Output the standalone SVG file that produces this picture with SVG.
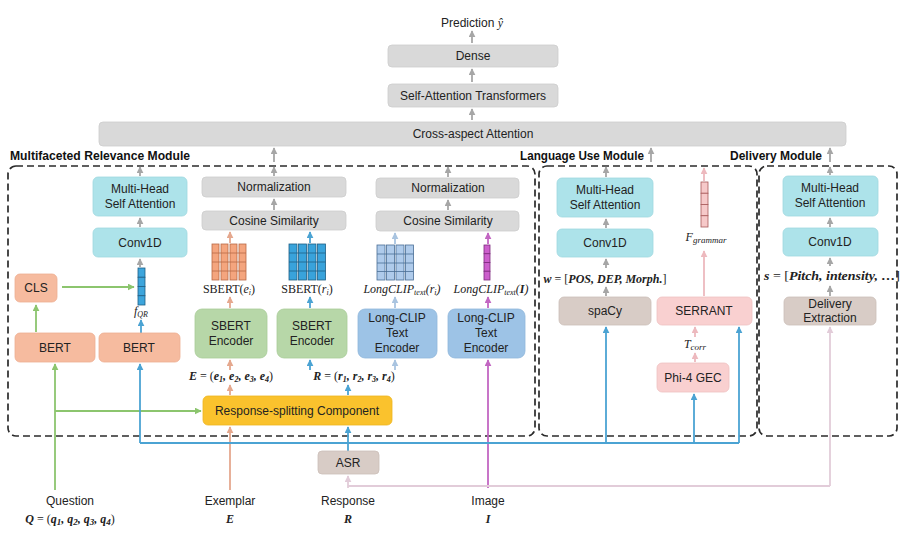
<svg xmlns="http://www.w3.org/2000/svg" width="905" height="538" viewBox="0 0 905 538">
<defs>
<style>
.t{font-family:"Liberation Sans","Open Sans",sans-serif;font-size:12px;fill:#222;text-anchor:middle}
.mod{font-family:"Liberation Sans",sans-serif;font-size:12px;font-weight:bold;fill:#111}
.m{font-family:"Liberation Serif","DejaVu Serif",serif;font-size:12px;fill:#222;text-anchor:middle}
.bi{font-style:italic;font-weight:bold}
.it{font-style:italic}
.gray{fill:#D9D9D9;stroke:#CDCDCD;stroke-width:0.8}
.cyan{fill:#ADE3EA;stroke:#9FD8E0;stroke-width:0.8}
.sal{fill:#F6BB9F;stroke:#EDAE92;stroke-width:0.8}
.grn{fill:#B7D7A8;stroke:#A8CB98;stroke-width:0.8}
.blu{fill:#9DC3E6;stroke:#8FB6DA;stroke-width:0.8}
.yel{fill:#FAC22D;stroke:#EDB520;stroke-width:0.8}
.tau{fill:#D8CCC6;stroke:#CBBFB9;stroke-width:0.8}
.pnk{fill:#F9D0D0;stroke:#EFC2C2;stroke-width:0.8}
.dash{fill:none;stroke:#2B2B2B;stroke-width:1.7;stroke-dasharray:7 4}
.c{fill:none;stroke-width:1.8}
.cg{stroke:#A6A6A6}
.cgr{stroke:#8CC56E}
.cb{stroke:#4BA3D3}
.cp{stroke:#E5A88E}
.cm{stroke:#C266C2}
.clp{stroke:#E2CCD9}
.cpk{stroke:#EDB9BE}
.clb{stroke:#A9C4E0}
</style>
<marker id="mg" viewBox="0 0 10 10" refX="9" refY="5" markerWidth="7" markerHeight="7" markerUnits="userSpaceOnUse" orient="auto"><path d="M0,0L10,5L0,10z" fill="#A6A6A6"/></marker>
<marker id="mgr" viewBox="0 0 10 10" refX="9" refY="5" markerWidth="7" markerHeight="7" markerUnits="userSpaceOnUse" orient="auto"><path d="M0,0L10,5L0,10z" fill="#8CC56E"/></marker>
<marker id="mb" viewBox="0 0 10 10" refX="9" refY="5" markerWidth="7" markerHeight="7" markerUnits="userSpaceOnUse" orient="auto"><path d="M0,0L10,5L0,10z" fill="#4BA3D3"/></marker>
<marker id="mp" viewBox="0 0 10 10" refX="9" refY="5" markerWidth="7" markerHeight="7" markerUnits="userSpaceOnUse" orient="auto"><path d="M0,0L10,5L0,10z" fill="#E5A88E"/></marker>
<marker id="mm" viewBox="0 0 10 10" refX="9" refY="5" markerWidth="7" markerHeight="7" markerUnits="userSpaceOnUse" orient="auto"><path d="M0,0L10,5L0,10z" fill="#C266C2"/></marker>
<marker id="mlp" viewBox="0 0 10 10" refX="9" refY="5" markerWidth="7" markerHeight="7" markerUnits="userSpaceOnUse" orient="auto"><path d="M0,0L10,5L0,10z" fill="#E2CCD9"/></marker>
<marker id="mpk" viewBox="0 0 10 10" refX="9" refY="5" markerWidth="7" markerHeight="7" markerUnits="userSpaceOnUse" orient="auto"><path d="M0,0L10,5L0,10z" fill="#EDB9BE"/></marker>
<marker id="mlb" viewBox="0 0 10 10" refX="9" refY="5" markerWidth="7" markerHeight="7" markerUnits="userSpaceOnUse" orient="auto"><path d="M0,0L10,5L0,10z" fill="#A9C4E0"/></marker>
</defs>
<rect width="905" height="538" fill="#fff"/>

<!-- module frames -->
<g id="frames">
<rect class="dash" x="8" y="166" width="527" height="270" rx="8"/>
<rect class="dash" x="539" y="166" width="218" height="270" rx="8"/>
<rect class="dash" x="759" y="166" width="138" height="270" rx="8"/>
<text class="mod" x="10" y="160" textLength="180" lengthAdjust="spacingAndGlyphs">Multifaceted Relevance Module</text>
<text class="mod" x="520" y="160" textLength="124" lengthAdjust="spacingAndGlyphs">Language Use Module</text>
<text class="mod" x="730" y="160" textLength="92" lengthAdjust="spacingAndGlyphs">Delivery Module</text>
</g>

<!-- connectors -->
<g id="connectors">
<!-- top stack -->
<line class="c cg" x1="472" y1="43" x2="472" y2="31" marker-end="url(#mg)"/>
<line class="c cg" x1="472" y1="82" x2="472" y2="69" marker-end="url(#mg)"/>
<line class="c cg" x1="472" y1="120" x2="472" y2="109" marker-end="url(#mg)"/>
<line class="c cg" x1="274" y1="162" x2="274" y2="148" marker-end="url(#mg)"/>
<line class="c cg" x1="651" y1="162" x2="651" y2="148" marker-end="url(#mg)"/>
<line class="c cg" x1="830" y1="162" x2="830" y2="148" marker-end="url(#mg)"/>
<!-- relevance internal -->
<line class="c cg" x1="140" y1="176" x2="140" y2="167" marker-end="url(#mg)"/>
<line class="c cg" x1="140" y1="227" x2="140" y2="218" marker-end="url(#mg)"/>
<line class="c cg" x1="140" y1="267" x2="140" y2="259" marker-end="url(#mg)"/>
<line class="c cg" x1="274" y1="176" x2="274" y2="167" marker-end="url(#mg)"/>
<line class="c cg" x1="274" y1="210" x2="274" y2="199" marker-end="url(#mg)"/>
<line class="c cg" x1="448" y1="177" x2="448" y2="167" marker-end="url(#mg)"/>
<line class="c cg" x1="448" y1="210" x2="448" y2="200" marker-end="url(#mg)"/>
<line class="c cb" x1="141" y1="333" x2="141" y2="320" marker-end="url(#mb)"/>
<line class="c cgr" x1="62" y1="287" x2="134" y2="287" marker-end="url(#mgr)"/>
<line class="c cgr" x1="36" y1="332" x2="36" y2="305" marker-end="url(#mgr)"/>
<polyline class="c cgr" points="55,490 55,364" marker-end="url(#mgr)"/>
<polyline class="c cgr" points="55,411 201,411" marker-end="url(#mgr)"/>
<!-- to cosine sim -->
<line class="c cp" x1="230" y1="243" x2="230" y2="232" marker-end="url(#mp)"/>
<line class="c cb" x1="310" y1="243" x2="310" y2="232" marker-end="url(#mb)"/>
<line class="c clb" x1="395" y1="244" x2="395" y2="233" marker-end="url(#mlb)"/>
<line class="c cm" x1="488" y1="244" x2="488" y2="233" marker-end="url(#mm)"/>
<!-- encoders to embeddings -->
<line class="c cp" x1="230" y1="308" x2="230" y2="297" marker-end="url(#mp)"/>
<line class="c cb" x1="310" y1="308" x2="310" y2="297" marker-end="url(#mb)"/>
<line class="c clb" x1="395" y1="308" x2="395" y2="297" marker-end="url(#mlb)"/>
<line class="c cm" x1="488" y1="308" x2="488" y2="297" marker-end="url(#mm)"/>
<!-- RSC to encoders -->
<line class="c cp" x1="230" y1="395" x2="230" y2="385" marker-end="url(#mp)"/>
<line class="c cp" x1="230" y1="370" x2="230" y2="360" marker-end="url(#mp)"/>
<line class="c cb" x1="348" y1="395" x2="348" y2="385" marker-end="url(#mb)"/>
<line class="c cb" x1="310" y1="370" x2="310" y2="360" marker-end="url(#mb)"/>
<line class="c clb" x1="395" y1="370" x2="395" y2="360" marker-end="url(#mlb)"/>
<!-- inputs -->
<line class="c cp" x1="230" y1="490" x2="230" y2="427" marker-end="url(#mp)"/>
<line class="c cm" x1="488" y1="488" x2="488" y2="360" marker-end="url(#mm)"/>
<polyline class="c clp" points="830,486 830,327" marker-end="url(#mlp)"/>
<polyline class="c clp" points="348,486 830,486"/>
<line class="c clp" x1="348" y1="488" x2="348" y2="476" marker-end="url(#mlp)"/>
<line class="c cb" x1="348" y1="451" x2="348" y2="427" marker-end="url(#mb)"/>
<polyline class="c cb" points="140,443 739,443"/>
<line class="c cb" x1="140" y1="443" x2="140" y2="364" marker-end="url(#mb)"/>
<line class="c cb" x1="606" y1="443" x2="606" y2="327" marker-end="url(#mb)"/>
<line class="c cb" x1="694" y1="443" x2="694" y2="394" marker-end="url(#mb)"/>
<line class="c cb" x1="739" y1="443" x2="739" y2="327" marker-end="url(#mb)"/>
<!-- language internal -->
<line class="c cg" x1="606" y1="177" x2="606" y2="167" marker-end="url(#mg)"/>
<line class="c cg" x1="606" y1="228" x2="606" y2="219" marker-end="url(#mg)"/>
<line class="c cg" x1="606" y1="268" x2="606" y2="259" marker-end="url(#mg)"/>
<line class="c cg" x1="606" y1="296" x2="606" y2="287" marker-end="url(#mg)"/>
<line class="c cpk" x1="704" y1="181" x2="704" y2="168" marker-end="url(#mpk)"/>
<line class="c cpk" x1="704" y1="296" x2="704" y2="251" marker-end="url(#mpk)"/>
<line class="c cpk" x1="695" y1="362" x2="695" y2="353" marker-end="url(#mpk)"/>
<line class="c cpk" x1="695" y1="337" x2="695" y2="327" marker-end="url(#mpk)"/>
<!-- delivery internal -->
<line class="c cg" x1="830" y1="175" x2="830" y2="167" marker-end="url(#mg)"/>
<line class="c cg" x1="830" y1="227" x2="830" y2="218" marker-end="url(#mg)"/>
<line class="c cg" x1="830" y1="266" x2="830" y2="258" marker-end="url(#mg)"/>
<line class="c cg" x1="830" y1="296" x2="830" y2="286" marker-end="url(#mg)"/>
</g>

<!-- top stack -->
<g id="prediction"><text class="t" x="472" y="27">Prediction <tspan font-family="Liberation Serif,serif" font-style="italic">ŷ</tspan></text></g>
<g id="dense"><rect class="gray" x="388" y="45" width="170" height="22" rx="4"/><text class="t" x="473" y="60">Dense</text></g>
<g id="sat"><rect class="gray" x="388" y="84" width="170" height="23" rx="4"/><text class="t" x="473" y="100">Self-Attention Transformers</text></g>
<g id="cross"><rect class="gray" x="99" y="122" width="747" height="24" rx="4"/><text class="t" x="473" y="138">Cross-aspect Attention</text></g>

<!-- relevance module -->
<g id="rel-mhsa"><rect class="cyan" x="93" y="177" width="94" height="39" rx="5"/><text class="t" x="140" y="193">Multi-Head</text><text class="t" x="140" y="208">Self Attention</text></g>
<g id="rel-conv"><rect class="cyan" x="93" y="228" width="94" height="29" rx="5"/><text class="t" x="140" y="247">Conv1D</text></g>
<g id="fqr">
<g fill="#3DA5DC" stroke="#1F5F85" stroke-width="0.8">
<rect x="138" y="268" width="7" height="9.25"/><rect x="138" y="277.25" width="7" height="9.25"/><rect x="138" y="286.5" width="7" height="9.25"/><rect x="138" y="295.75" width="7" height="9.25"/>
</g>
<text class="m it" x="141" y="315" font-size="13">f<tspan font-size="8" dy="2">QR</tspan></text>
</g>
<g id="cls"><rect class="sal" x="15" y="274" width="42" height="28" rx="5"/><text class="t" x="36" y="292">CLS</text></g>
<g id="bert1"><rect class="sal" x="15" y="333" width="80" height="29" rx="5"/><text class="t" x="55" y="352">BERT</text></g>
<g id="bert2"><rect class="sal" x="99" y="333" width="81" height="29" rx="5"/><text class="t" x="139" y="352">BERT</text></g>

<g id="norm1"><rect class="gray" x="202" y="177" width="144" height="20" rx="4"/><text class="t" x="274" y="191">Normalization</text></g>
<g id="cos1"><rect class="gray" x="202" y="211" width="144" height="19" rx="4"/><text class="t" x="274" y="225">Cosine Similarity</text></g>
<g id="norm2"><rect class="gray" x="376" y="178" width="143" height="20" rx="4"/><text class="t" x="448" y="192">Normalization</text></g>
<g id="cos2"><rect class="gray" x="376" y="211" width="143" height="20" rx="4"/><text class="t" x="448" y="225">Cosine Similarity</text></g>

<g id="emb-e">
<g fill="#F4A57E" stroke="#B86A48" stroke-width="0.8">
<rect x="212" y="244" width="7" height="36"/><rect x="221" y="244" width="7" height="36"/><rect x="230" y="244" width="7" height="36"/><rect x="239" y="244" width="7" height="36"/>
</g>
<g stroke="#B86A48" stroke-width="0.8"><line x1="212" y1="253" x2="246" y2="253"/><line x1="212" y1="262" x2="246" y2="262"/><line x1="212" y1="271" x2="246" y2="271"/></g>
<text class="m" x="229" y="293">SBERT(<tspan class="it">e<tspan font-size="8" dy="2">i</tspan></tspan><tspan dy="-2">)</tspan></text>
</g>
<g id="emb-r">
<g fill="#39A3DB" stroke="#1F5F85" stroke-width="0.8">
<rect x="289" y="244" width="8" height="36"/><rect x="298.5" y="244" width="8" height="36"/><rect x="308" y="244" width="8" height="36"/><rect x="317.5" y="244" width="8" height="36"/>
</g>
<g stroke="#1F5F85" stroke-width="0.8"><line x1="289" y1="253" x2="325.5" y2="253"/><line x1="289" y1="262" x2="325.5" y2="262"/><line x1="289" y1="271" x2="325.5" y2="271"/></g>
<text class="m" x="307" y="293">SBERT(<tspan class="it">r<tspan font-size="8" dy="2">i</tspan></tspan><tspan dy="-2">)</tspan></text>
</g>
<g id="emb-lc-r">
<g fill="#AFCBEB" stroke="#4A6E96" stroke-width="0.8">
<rect x="377" y="245" width="8" height="35"/><rect x="386.5" y="245" width="8" height="35"/><rect x="396" y="245" width="8" height="35"/><rect x="405.5" y="245" width="8" height="35"/>
</g>
<g stroke="#4A6E96" stroke-width="0.8"><line x1="377" y1="254" x2="413.5" y2="254"/><line x1="377" y1="263" x2="413.5" y2="263"/><line x1="377" y1="271.5" x2="413.5" y2="271.5"/></g>
<text class="m it" x="402" y="293">LongCLIP<tspan font-size="8" dy="2">text</tspan><tspan dy="-2">(r</tspan><tspan font-size="8" dy="2">i</tspan><tspan dy="-2">)</tspan></text>
</g>
<g id="emb-lc-i">
<g fill="#CC5FCC" stroke="#7D2A7D" stroke-width="0.8">
<rect x="484" y="245" width="6" height="8.75"/><rect x="484" y="253.75" width="6" height="8.75"/><rect x="484" y="262.5" width="6" height="8.75"/><rect x="484" y="271.25" width="6" height="8.75"/>
</g>
<text class="m it" x="491" y="293">LongCLIP<tspan font-size="8" dy="2">text</tspan><tspan dy="-2">(</tspan><tspan font-weight="bold">I</tspan>)</text>
</g>

<g id="sbert-e"><rect class="grn" x="195" y="309" width="72" height="49" rx="7"/><text class="t" x="231" y="330">SBERT</text><text class="t" x="231" y="345">Encoder</text></g>
<g id="sbert-r"><rect class="grn" x="277" y="309" width="70" height="49" rx="7"/><text class="t" x="312" y="330">SBERT</text><text class="t" x="312" y="345">Encoder</text></g>
<g id="lclip-r"><rect class="blu" x="358" y="309" width="79" height="49" rx="7"/><text class="t" x="397" y="322">Long-CLIP</text><text class="t" x="397" y="337">Text</text><text class="t" x="397" y="352">Encoder</text></g>
<g id="lclip-i"><rect class="blu" x="448" y="309" width="77" height="49" rx="7"/><text class="t" x="486" y="322">Long-CLIP</text><text class="t" x="486" y="337">Text</text><text class="t" x="486" y="352">Encoder</text></g>

<g id="e-set"><text class="m bi" x="231" y="380" font-size="13">E <tspan font-style="normal" font-weight="normal">= (</tspan>e<tspan font-size="8" dy="2">1</tspan><tspan dy="-2">, e</tspan><tspan font-size="8" dy="2">2</tspan><tspan dy="-2">, e</tspan><tspan font-size="8" dy="2">3</tspan><tspan dy="-2">, e</tspan><tspan font-size="8" dy="2">4</tspan><tspan dy="-2" font-style="normal" font-weight="normal">)</tspan></text></g>
<g id="r-set"><text class="m bi" x="354" y="380" font-size="13">R <tspan font-style="normal" font-weight="normal">= (</tspan>r<tspan font-size="8" dy="2">1</tspan><tspan dy="-2">, r</tspan><tspan font-size="8" dy="2">2</tspan><tspan dy="-2">, r</tspan><tspan font-size="8" dy="2">3</tspan><tspan dy="-2">, r</tspan><tspan font-size="8" dy="2">4</tspan><tspan dy="-2" font-style="normal" font-weight="normal">)</tspan></text></g>

<g id="rsc"><rect class="yel" x="203" y="396" width="189" height="29" rx="5"/><text class="t" x="297" y="415">Response-splitting Component</text></g>
<g id="asr"><rect class="tau" x="318" y="451" width="61" height="23" rx="4"/><text class="t" x="348" y="467">ASR</text></g>

<!-- language use module -->
<g id="lang-mhsa"><rect class="cyan" x="557" y="178" width="96" height="39" rx="5"/><text class="t" x="605" y="194">Multi-Head</text><text class="t" x="605" y="209">Self Attention</text></g>
<g id="lang-conv"><rect class="cyan" x="557" y="229" width="96" height="28" rx="5"/><text class="t" x="605" y="247">Conv1D</text></g>
<g id="w-label"><text class="m bi" x="605" y="283">w <tspan font-style="normal" font-weight="normal">= [</tspan>POS, DEP, Morph.<tspan font-style="normal" font-weight="normal">]</tspan></text></g>
<g id="spacy"><rect class="tau" x="559" y="297" width="92" height="28" rx="5"/><text class="t" x="605" y="315">spaCy</text></g>
<g id="serrant"><rect class="pnk" x="657" y="297" width="95" height="28" rx="5"/><text class="t" x="704" y="315">SERRANT</text></g>
<g id="fgrammar">
<g fill="#F6C9C9" stroke="#A85A5A" stroke-width="0.8">
<rect x="701" y="182" width="7" height="11.25"/><rect x="701" y="193.25" width="7" height="11.25"/><rect x="701" y="204.5" width="7" height="11.25"/><rect x="701" y="215.75" width="7" height="11.25"/>
</g>
<text class="m it" x="706" y="241" font-size="13">F<tspan font-size="9" dy="2">grammar</tspan></text>
</g>
<g id="tcorr"><text class="m it" x="695" y="348" font-size="13">T<tspan font-size="9" dy="2">corr</tspan></text></g>
<g id="phi4"><rect class="pnk" x="657" y="363" width="72" height="29" rx="5"/><text class="t" x="693" y="382">Phi-4 GEC</text></g>

<!-- delivery module -->
<g id="del-mhsa"><rect class="cyan" x="783" y="176" width="95" height="40" rx="5"/><text class="t" x="830" y="192">Multi-Head</text><text class="t" x="830" y="207">Self Attention</text></g>
<g id="del-conv"><rect class="cyan" x="783" y="228" width="95" height="28" rx="5"/><text class="t" x="830" y="246">Conv1D</text></g>
<g id="s-label"><text class="m bi" x="832" y="280" font-size="13" textLength="136" lengthAdjust="spacingAndGlyphs">s <tspan font-style="normal" font-weight="normal">= [</tspan>Pitch, intensity, …<tspan font-style="normal" font-weight="normal">]</tspan></text></g>
<g id="del-ext"><rect class="tau" x="784" y="297" width="92" height="28" rx="5"/><text class="t" x="830" y="308">Delivery</text><text class="t" x="830" y="322">Extraction</text></g>

<!-- inputs -->
<g id="in-question"><text class="t" x="70" y="505">Question</text><text class="m bi" x="70" y="523" font-size="13.5">Q <tspan font-style="normal" font-weight="normal">= (</tspan>q<tspan font-size="9" dy="2">1</tspan><tspan dy="-2">, q</tspan><tspan font-size="9" dy="2">2</tspan><tspan dy="-2">, q</tspan><tspan font-size="9" dy="2">3</tspan><tspan dy="-2">, q</tspan><tspan font-size="9" dy="2">4</tspan><tspan dy="-2" font-style="normal" font-weight="normal">)</tspan></text></g>
<g id="in-exemplar"><text class="t" x="230" y="505">Exemplar</text><text class="m bi" x="230" y="523" font-size="13">E</text></g>
<g id="in-response"><text class="t" x="348" y="505">Response</text><text class="m bi" x="348" y="523" font-size="13">R</text></g>
<g id="in-image"><text class="t" x="488" y="505">Image</text><text class="m bi" x="488" y="523" font-size="13">I</text></g>
</svg>
